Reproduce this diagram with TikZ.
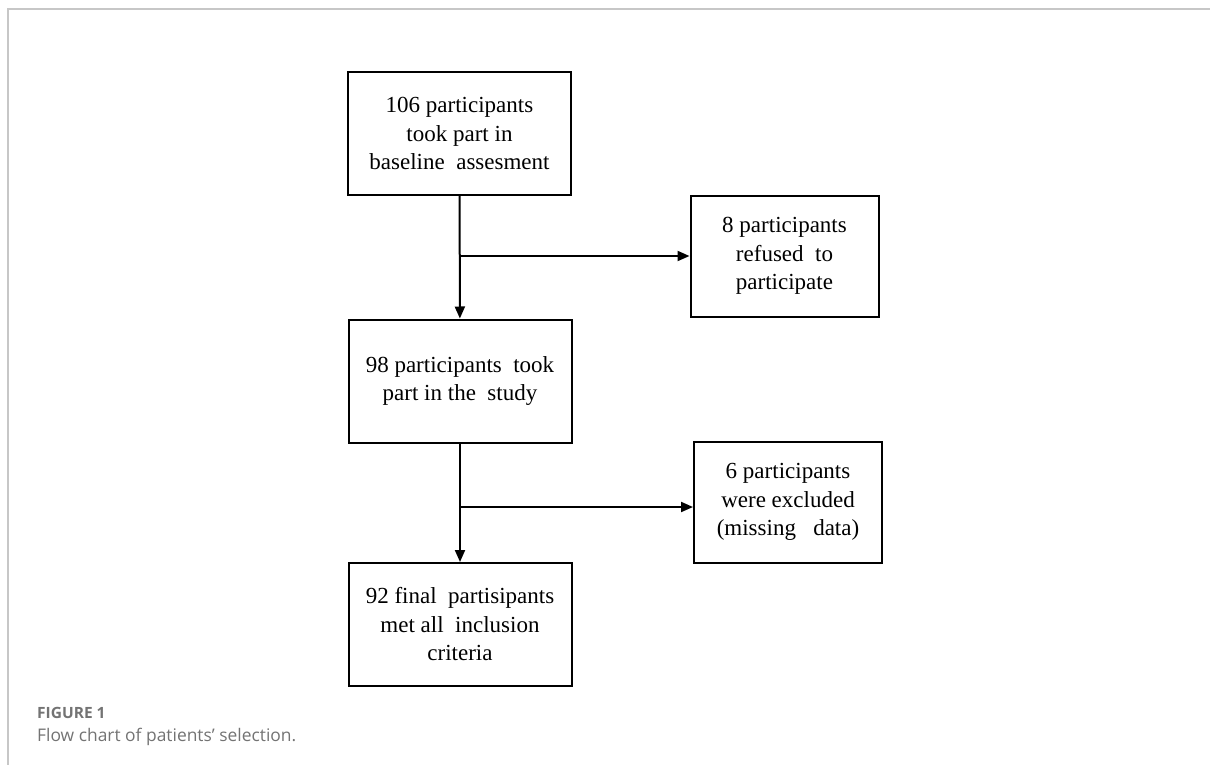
\documentclass[tikz,border=0pt]{standalone}
\usepackage{fontspec}
\setmainfont{Liberation Serif}
\newfontfamily\capfont{Open Sans}
\usetikzlibrary{arrows.meta}
\tikzset{
  box/.style={draw, line width=2pt, minimum width=223pt, minimum height=123pt,
    align=center, inner sep=0pt, font=\fontsize{23}{28.5}\selectfont},
  sidebox/.style={box, minimum width=188pt, minimum height=121pt},
  flow/.style={line width=2pt, -{Triangle[length=12pt,width=10pt]}},
  captext/.style={anchor=base west, inner sep=0pt, text=black!55}
}

\begin{document}
\begin{tikzpicture}[x=1pt,y=-1pt]
  %%%%% FRAME %%%%%
  \useasboundingbox (0,0) rectangle (1210,765);
  \draw[black!22, line width=1.6pt] (8,765) -- (8,9) -- (1210,9);

  %%%%% BOXES %%%%%
  \node[box] (baseline) at (459.5,133.5) {106 participants\\took part in\\baseline\ \ assesment};
  \node[box] (study) at (460,381) {98 participants\ \ took\\part in\ the\ \ study};
  \node[box] (final) at (460,624.5) {92 final\ \ partisipants\\met\ all\ \ inclusion\\criteria};
  \node[sidebox] (refused) at (784.5,256) {8 participants\\refused\ \ to\\participate};
  \node[sidebox] (excluded) at (788,502) {6 participants\\were\ excluded\\(missing\ \ \ data)};

  %%%%% ARROWS %%%%%
  \draw[flow] (baseline) -- (study);
  \coordinate (split1) at (baseline.south |- refused.west);
  \draw[flow] (split1) -- (refused.west);
  \draw[flow] (study) -- (final);
  \coordinate (split2) at (460,507);
  \draw[flow] (split2) -- (split2 -| excluded.west);

  %%%%% CAPTION %%%%%
  \node[captext, font=\capfont\bfseries\fontsize{15.5}{17}\selectfont] (figlabel) at (37,718) {FIGURE 1};
  \node[captext, font=\capfont\fontsize{17.4}{21}\selectfont] (caption) at (37,741) {Flow chart of patients’ selection.};
\end{tikzpicture}
\end{document}
